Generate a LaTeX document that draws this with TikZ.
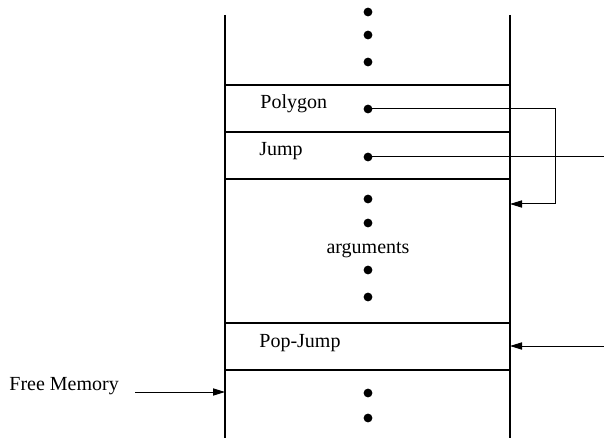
\documentclass[tikz,border=0pt]{standalone}
\usepackage{fontspec}
\setmainfont{Liberation Serif}
\usetikzlibrary{arrows.meta}
\begin{document}
\begin{tikzpicture}[x=0.5pt,y=-0.5pt,
  wall/.style={line width=1pt},
  rule/.style={line width=0.9pt},
  link/.style={line width=0.5pt},
  ptr/.style={link,-{Triangle[length=6pt,width=3.6pt]}},
  dot/.style={circle,fill,inner sep=0pt,minimum size=4.4pt},
  lbl/.style={font=\fontsize{10}{12}\selectfont,inner sep=0pt,anchor=base west}]
\useasboundingbox (0,0) rectangle (604,438);

% stack walls
\coordinate (lt) at (225,15);
\coordinate (lb) at (225,438);
\coordinate (rt) at (510,15);
\coordinate (rb) at (510,438);
\draw[wall] (lt) -- (lb);
\draw[wall] (rt) -- (rb);

% cell boundaries
\foreach \y/\n in {85/a,132/b,179/c,323/d,370/e}{
  \draw[rule] (225,\y) coordinate (\n l) -- (510,\y) coordinate (\n r);
}

% continuation dots
\foreach \y/\n in {12/t1,35/t2,62/t3,199/m1,223/m2,270/m3,297/m4,393/b1,418/b2}{
  \node[dot] (\n) at (368,\y) {};
}

% cell labels
\node[lbl] (poly) at (260,109) {Polygon};
\node[dot] (pdot) at (368,109) {};
\node[lbl] (jump) at (259,156) {Jump};
\node[dot] (jdot) at (368,157) {};
\node[lbl,anchor=base] (args) at (368,253) {arguments};
\node[lbl] (pop) at (259,347) {Pop-Jump};
\node[lbl] (free) at (9,390) {Free Memory};

% pointer from the Polygon cell down to the argument area
\coordinate (pbend1) at (555,109);
\coordinate (pbend2) at (555,204);
\coordinate (ptgt) at (510,204);
\draw[ptr] (pdot.center) -- (pbend1) -- (pbend2) -- (ptgt);

% jump pointer leaving to the right
\coordinate (jout) at (604,157);
\draw[link] (jdot.center) -- (jout);

% incoming return pointer at Pop-Jump
\coordinate (pin) at (604,346);
\coordinate (ptgt2) at (510,346);
\draw[ptr] (pin) -- (ptgt2);

% free memory pointer
\coordinate (fsrc) at (135,392);
\coordinate (ftgt) at (225,392);
\draw[ptr] (fsrc) -- (ftgt);
\end{tikzpicture}
\end{document}
